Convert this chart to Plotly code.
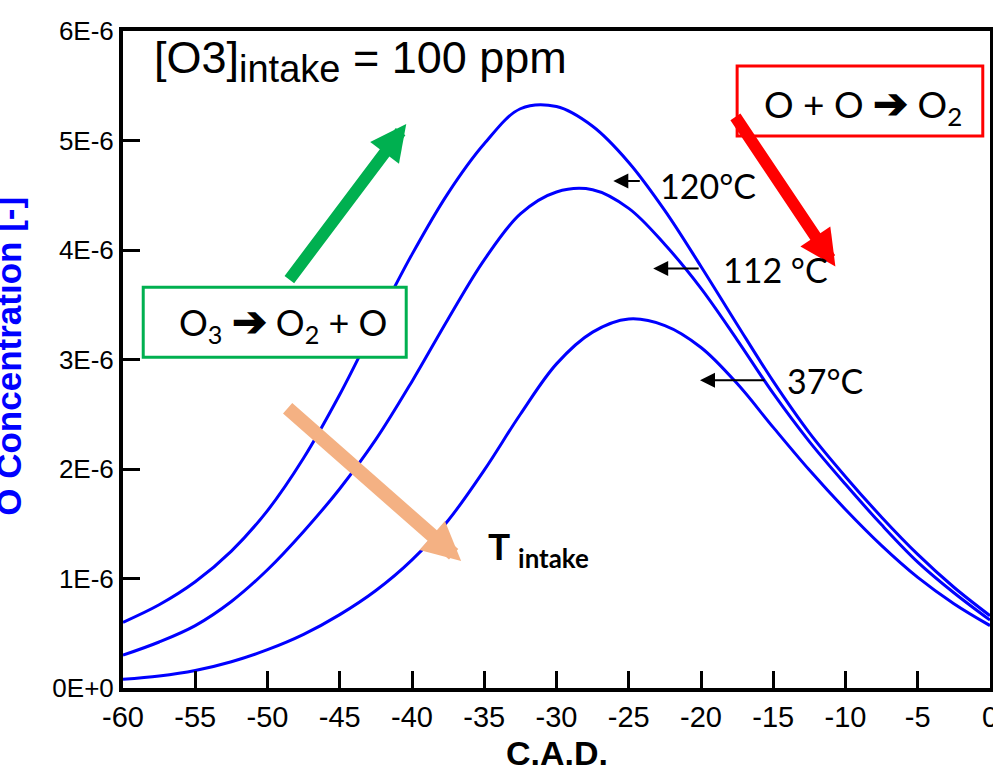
import numpy as np
import plotly.graph_objects as go

# Crank angle (deg, before TDC)
cad = [-60, -57.5, -55, -52.5, -50, -47.5, -45, -42.5, -40, -37.5, -35, -32.5,
       -30, -27.5, -25, -22.5, -20, -17.5, -15, -12.5, -10, -7.5, -5, -2.5, 0]

# O concentration [-] in units of 1E-6, for three intake temperatures
o_120 = [0.60, 0.76, 0.97, 1.25, 1.62, 2.10, 2.68, 3.33, 3.96, 4.52, 4.97, 5.29,
         5.31, 5.13, 4.80, 4.36, 3.85, 3.32, 2.80, 2.33, 1.93, 1.56, 1.22, 0.92, 0.66]
o_112 = [0.30, 0.42, 0.57, 0.79, 1.08, 1.43, 1.82, 2.27, 2.80, 3.37, 3.91, 4.33,
         4.53, 4.55, 4.38, 4.05, 3.65, 3.18, 2.69, 2.25, 1.86, 1.49, 1.15, 0.87, 0.62]
o_37 = [0.08, 0.11, 0.16, 0.24, 0.35, 0.49, 0.67, 0.89, 1.17, 1.53, 1.99, 2.50,
        2.96, 3.25, 3.37, 3.31, 3.11, 2.78, 2.38, 1.99, 1.63, 1.30, 1.01, 0.77, 0.57]

x_ticks = [-60, -55, -50, -45, -40, -35, -30, -25, -20, -15, -10, -5, 0]
x_tick_text = ["-60", "-55", "-50", "-45", "-40", "-35", "-30", "-25", "-20",
               "-15", "-10", "-5", "0"]
y_tick_vals = [0, 1, 2, 3, 4, 5, 6]
y_tick_text = ["0E+0", "1E-6", "2E-6", "3E-6", "4E-6", "5E-6", "6E-6"]

SCALE = 1e-6
BLUE = "#0000FF"
GREEN = "#00B050"
RED = "#FF0000"
PEACH = "#F4B183"
ARIAL = "Liberation Sans, Arial, sans-serif"
CALIBRI = "Lato, Open Sans, sans-serif"
ARROW = "<span style='font-size:42px'><b>➔</b></span>"

fig = go.Figure()
for series in (o_120, o_112, o_37):
    fig.add_trace(go.Scatter(
        x=cad, y=np.array(series) * SCALE, mode="lines",
        line=dict(color=BLUE, width=3, shape="spline", smoothing=1.0),
        showlegend=False, hoverinfo="skip"))

axis_common = dict(showline=True, linecolor="black", linewidth=4, mirror=True,
                   ticks="inside", tickcolor="black", tickwidth=3, ticklen=17,
                   showgrid=False, zeroline=False, automargin=False)

fig.update_layout(
    width=993, height=779,
    margin=dict(l=123, r=3, t=31, b=91, autoexpand=False),
    plot_bgcolor="white", paper_bgcolor="white",
    xaxis=dict(range=[-60, 0], tickvals=x_ticks, ticktext=x_tick_text,
               ticklabeloverflow="allow",
               tickfont=dict(family=ARIAL, size=29, color="black"), **axis_common),
    yaxis=dict(range=[0, 6 * SCALE], tickvals=[v * SCALE for v in y_tick_vals],
               ticktext=y_tick_text,
               tickfont=dict(family=ARIAL, size=26, color="black"), **axis_common),
)

# Reaction boxes
fig.add_shape(type="rect", x0=-58.6, x1=-40.4, y0=3.02 * SCALE, y1=3.66 * SCALE,
              line=dict(color=GREEN, width=3), fillcolor="white", layer="above")
fig.add_shape(type="rect", x0=-17.5, x1=-0.5, y0=5.04 * SCALE, y1=5.68 * SCALE,
              line=dict(color=RED, width=3), fillcolor="white", layer="above")

ann = []
# Thick trend arrows
ann.append(dict(x=-40.4, y=5.15 * SCALE, ax=-118, ay=157, text="", showarrow=True,
                arrowhead=2, arrowsize=0.6, arrowwidth=12, arrowcolor=GREEN))
ann.append(dict(x=-10.7, y=3.85 * SCALE, ax=-101, ay=-151, text="", showarrow=True,
                arrowhead=2, arrowsize=0.6, arrowwidth=12, arrowcolor=RED))
ann.append(dict(x=-36.6, y=1.16 * SCALE, ax=-175, ay=-154, text="", showarrow=True,
                arrowhead=2, arrowsize=0.55, arrowwidth=14, arrowcolor=PEACH))

# Curve pointers
for tip_x, tip_y, dx in [(-26.07, 4.63, 28), (-23.31, 3.83, 47), (-20.07, 2.81, 66)]:
    ann.append(dict(x=tip_x, y=tip_y * SCALE, ax=dx, ay=0, text="", showarrow=True,
                    arrowhead=2, arrowsize=1.5, arrowwidth=2, arrowcolor="black"))

# Curve labels
for lx, ly, txt in [(-22.97, 4.59, "120°C"), (-18.62, 3.82, "112 °C"),
                    (-14.21, 2.81, "37°C")]:
    ann.append(dict(x=lx, y=ly * SCALE, text=txt, showarrow=False, xanchor="left",
                    yanchor="middle", font=dict(family=CALIBRI, size=34, color="black")))

# Box texts
ann.append(dict(x=-48.9, y=3.34 * SCALE,
                text=f"O<sub>3</sub> {ARROW} O<sub>2</sub> + O",
                showarrow=False, xanchor="center", yanchor="middle",
                font=dict(family=CALIBRI, size=36, color="black")))
ann.append(dict(x=-8.8, y=5.33 * SCALE, text=f"O + O {ARROW} O<sub>2</sub>",
                showarrow=False, xanchor="center", yanchor="middle",
                font=dict(family=CALIBRI, size=37, color="black")))

# Intake conditions
ann.append(dict(x=-58.0, y=5.73 * SCALE,
                text="[O3]<sub><span style='font-size:38px'>intake</span></sub> = 100 ppm",
                showarrow=False, xanchor="left", yanchor="middle",
                font=dict(family=ARIAL, size=45, color="black")))
ann.append(dict(x=-34.9, y=1.27 * SCALE, text="<b>T <sub>intake</sub></b>",
                showarrow=False, xanchor="left", yanchor="middle",
                font=dict(family=CALIBRI, size=37, color="black")))

# Axis titles
ann.append(dict(xref="paper", yref="paper", x=0.5, y=-0.099, text="<b>C.A.D.</b>",
                showarrow=False, xanchor="center", yanchor="middle",
                font=dict(family=ARIAL, size=34, color="black")))
ann.append(dict(xref="paper", yref="paper", x=-0.132, y=0.505,
                text="<b>O Concentration [-]</b>", textangle=-90,
                showarrow=False, xanchor="center", yanchor="middle",
                font=dict(family=ARIAL, size=35, color=BLUE)))

fig.update_layout(annotations=ann)
fig.write_html("out.html")
